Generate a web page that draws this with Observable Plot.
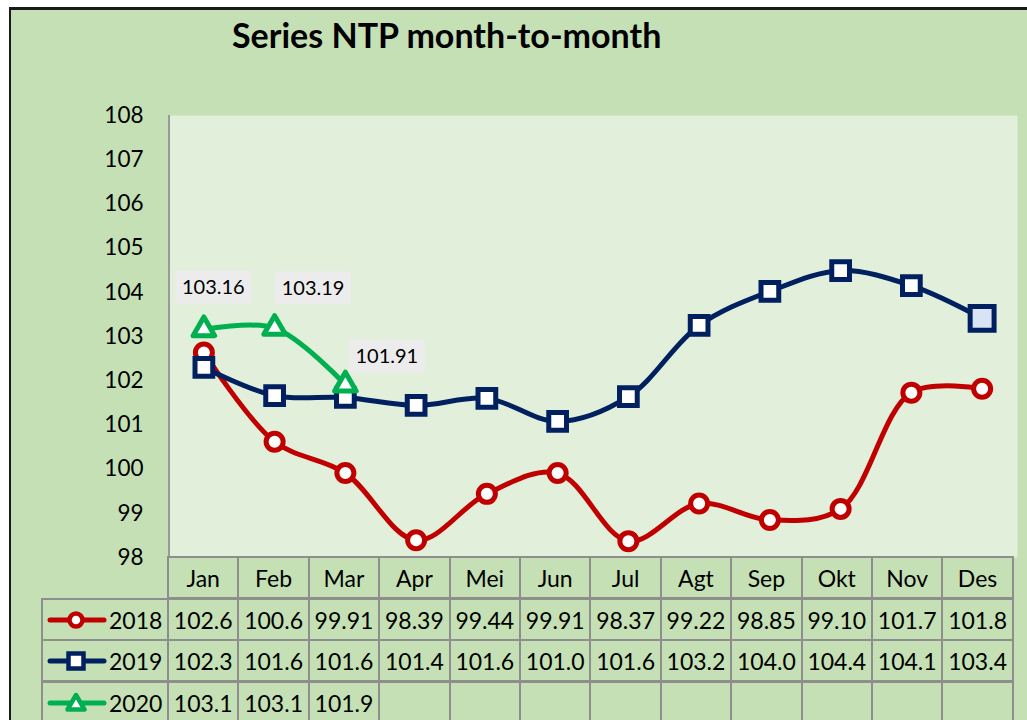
<!DOCTYPE html>
<html><head><meta charset="utf-8">
<script src="https://cdn.jsdelivr.net/npm/d3@7"></script>
<script src="https://cdn.jsdelivr.net/npm/@observablehq/plot@0.6"></script>
<style>
body{margin:0;background:#fff;font-family:Lato,sans-serif;}
#wrap{position:relative;width:1027px;height:720px;overflow:hidden;background:#fff;}
#frame{position:absolute;left:9px;top:7px;width:1040px;height:740px;background:#c5e0b4;border-left:2px solid #1a1a1a;border-top:3px solid #1a1a1a;box-sizing:border-box;}
#title{position:absolute;left:232px;top:14px;font:bold 34px Lato,sans-serif;color:#000;white-space:nowrap;}
#chart{position:absolute;left:0;top:0;}
.cell{position:absolute;box-sizing:border-box;border:2px solid #8e8e8e;display:flex;align-items:center;justify-content:center;font:23px Lato,sans-serif;color:#000;}
.lab{justify-content:flex-start;padding-left:4px;}
.lab svg{margin-right:2px;}
</style>
</head><body>
<div id="wrap">
  <div id="frame"></div>
  <div id="title">Series NTP month-to-month</div>
  <div id="chart"></div>
  <div id="table"></div>
</div>
<script>
// ---- data ----
const months = ["Jan","Feb","Mar","Apr","Mei","Jun","Jul","Agt","Sep","Okt","Nov","Des"];
const years = ["2018","2019","2020"];
const v2018 = [102.64,100.62,99.91,98.39,99.44,99.91,98.37,99.22,98.85,99.10,101.73,101.82];
const v2019 = [102.30,101.66,101.62,101.44,101.60,101.08,101.64,103.25,104.02,104.49,104.15,103.41];
const v2020 = [103.16,103.19,101.91];
const yTicks = [98,99,100,101,102,103,104,105,106,107,108];

// ---- styles / layout ----
const colors = {"2018":"#c00000","2019":"#002060","2020":"#00b050"};
const labelOffsets = [[10,-42],[39,-40],[42,-28]];

const toRows = (vals, year) => vals.map((v,i) => ({month: months[i], value: v, year}));
const d2018 = toRows(v2018,"2018"), d2019 = toRows(v2019,"2019"), d2020 = toRows(v2020,"2020");

const axisLine = (index, scales, values, dims) => {
  const g = d3.create("svg:g");
  g.append("line").attr("x1", dims.marginLeft + 1).attr("x2", dims.marginLeft + 1)
    .attr("y1", dims.marginTop).attr("y2", dims.height - dims.marginBottom)
    .attr("stroke", "#9a9a9a").attr("stroke-width", 2);
  return g.node();
};
const dataLabels = (index, scales) => {
  const g = d3.create("svg:g");
  const bw = scales.x.bandwidth ? scales.x.bandwidth() / 2 : 0;
  v2020.forEach((v, i) => {
    const cx = scales.x(months[i]) + bw + labelOffsets[i][0];
    const cy = scales.y(v) + labelOffsets[i][1];
    g.append("rect").attr("x", cx - 38).attr("y", cy - 16.5).attr("width", 76).attr("height", 33).attr("fill", "#ececec");
    g.append("text").attr("x", cx).attr("y", cy).attr("text-anchor", "middle").attr("dy", "0.36em")
      .attr("font-size", 20).attr("fill", "#000").text(v.toFixed(2));
  });
  return g.node();
};

const chart = Plot.plot({
  width: 1027, height: 600,
  marginLeft: 168, marginRight: 10, marginTop: 115, marginBottom: 43,
  x: {type: "band", domain: months, padding: 0, round: false, axis: null},
  y: {domain: [98, 108], ticks: yTicks, tickSize: 0, tickPadding: 25, label: null},
  style: {background: "transparent", fontFamily: "Lato, sans-serif", fontSize: "22.5px", color: "#000", overflow: "visible"},
  marks: [
    Plot.frame({fill: "#e2efda"}),
    axisLine,
    Plot.line(d2018, {x: "month", y: "value", stroke: colors["2018"], strokeWidth: 5, curve: "catmull-rom"}),
    Plot.dot(d2018, {x: "month", y: "value", r: 8.5, fill: "white", stroke: colors["2018"], strokeWidth: 5}),
    Plot.line(d2019, {x: "month", y: "value", stroke: colors["2019"], strokeWidth: 5, curve: "catmull-rom"}),
    Plot.dot(d2019.slice(0, 11), {x: "month", y: "value", symbol: "square", r: 10, fill: "white", stroke: colors["2019"], strokeWidth: 5}),
    Plot.dot(d2019.slice(11), {x: "month", y: "value", symbol: "square", r: 13.5, fill: "#dae3f3", stroke: colors["2019"], strokeWidth: 5}),
    Plot.line(d2020, {x: "month", y: "value", stroke: colors["2020"], strokeWidth: 5, curve: "catmull-rom"}),
    Plot.dot(d2020, {x: "month", y: "value", symbol: "triangle", r: 8, fill: "white", stroke: colors["2020"], strokeWidth: 5, strokeLinejoin: "round"}),
    dataLabels
  ]
});
document.getElementById("chart").appendChild(chart);

// ---- data table ----
const fmt = v => v >= 100 ? (Math.floor(v * 10 + 1e-6) / 10).toFixed(1) : (Math.floor(v * 100 + 1e-6) / 100).toFixed(2);
const table = document.getElementById("table");
const colX0 = 168, colW = 70.4, labX0 = 42;
const rowTops = [557, 599, 640, 682], rowH = 43;
const series = [v2018, v2019, v2020];
function cell(x, y, w, h, html, cls) {
  const d = document.createElement("div");
  d.className = "cell" + (cls ? " " + cls : "");
  d.style.left = (x - 1) + "px"; d.style.top = (y - 1) + "px";
  d.style.width = (w + 2) + "px"; d.style.height = (h + 1) + "px";
  d.innerHTML = html;
  table.appendChild(d);
}
months.forEach((m, c) => cell(colX0 + c * colW, rowTops[0], colW, rowH - 1, m));
const markerSvg = {
  "2018": c => `<circle cx="29" cy="11" r="6.5" fill="white" stroke="${c}" stroke-width="4.5"/>`,
  "2019": c => `<rect x="21.5" y="3.5" width="15" height="15" fill="white" stroke="${c}" stroke-width="4.5"/>`,
  "2020": c => `<path d="M29,3 L37.5,17.5 L20.5,17.5 Z" fill="white" stroke="${c}" stroke-width="4.5" stroke-linejoin="round"/>`
};
years.forEach((yr, r) => {
  const c = colors[yr];
  const icon = `<svg width="60" height="22"><line x1="3" x2="57" y1="11" y2="11" stroke="${c}" stroke-width="5" stroke-linecap="round"/>${markerSvg[yr](c)}</svg>`;
  cell(labX0, rowTops[r + 1], colX0 - labX0, rowH - 1, icon + yr, "lab");
  months.forEach((m, i) => {
    const v = series[r][i];
    cell(colX0 + i * colW, rowTops[r + 1], colW, rowH - 1, v === undefined ? "" : fmt(v));
  });
});
</script>
</body></html>
